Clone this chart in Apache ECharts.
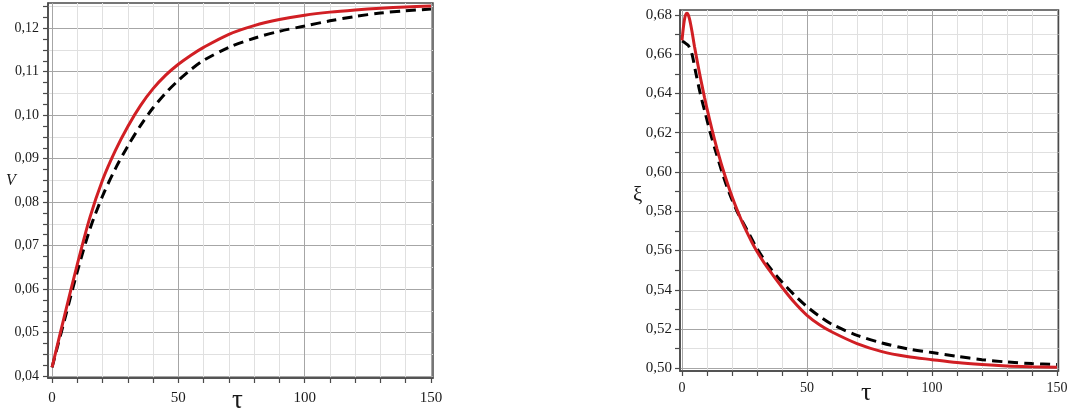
<!DOCTYPE html>
<html>
<head>
<meta charset="utf-8">
<script src="https://cdn.jsdelivr.net/npm/echarts@6/dist/echarts.min.js"></script>
<style>
html,body{margin:0;padding:0;background:#fff;}
#chart{width:1073px;height:414px;}
</style>
</head>
<body>
<div id="chart"></div>
<script>
// ---- Data ----
// Left panel: V(tau)
const tauVRed   = [0,5,10,15,20,25,30,35,40,45,50,55,60,70,80,90,100,110,120,130,140,150];
const vRed      = [0.0420,0.0540,0.0657,0.0765,0.0851,0.0918,0.0974,0.1022,0.1061,0.1092,0.1117,0.1138,0.1156,0.1186,0.1206,0.1220,0.1230,0.1237,0.1242,0.1246,0.1249,0.1251];
const tauVBlack = [0,5,10,15,20,25,30,35,40,45,50,55,60,70,80,90,100,110,120,130,140,150];
const vBlack    = [0.0420,0.0530,0.0640,0.0738,0.0814,0.0876,0.0929,0.0976,0.1017,0.1051,0.1080,0.1105,0.1126,0.1156,0.1177,0.1193,0.1205,0.1217,0.1227,0.1235,0.1240,0.1244];
// Right panel: xi(tau)
const tauXiRed   = [0,0.5,1,1.5,2,2.5,3,3.5,4,4.5,5,6,7,8,9,10,11,12,13,14,15,16,18,20,22,24,26,28,30,33,36,40,45,50,55,60,70,80,90,100,110,120,130,140,150];
const xiRed      = [0.6670,0.6730,0.6778,0.6802,0.6808,0.6800,0.6780,0.6750,0.6715,0.6677,0.6639,0.6570,0.6504,0.6441,0.6380,0.6323,0.6268,0.6216,0.6166,0.6118,0.6073,0.6029,0.5949,0.5875,0.5808,0.5747,0.5692,0.5641,0.5595,0.5534,0.5481,0.5413,0.5335,0.5270,0.5222,0.5185,0.5126,0.5085,0.5060,0.5044,0.5029,0.5019,0.5012,0.5008,0.5005];
const tauXiBlack = [0,1,2,2.7,4,5.6,7.3,9.3,11.3,13.6,16,18.7,22,26,30,35,40,45,50,55,60,70,80,90,100,110,120,130,140,150];
const xiBlack    = [0.6667,0.6660,0.6650,0.6641,0.6600,0.6500,0.6400,0.6300,0.6200,0.6100,0.6000,0.5900,0.5800,0.5705,0.5610,0.5515,0.5439,0.5373,0.5314,0.5265,0.5224,0.5168,0.5129,0.5100,0.5080,0.5061,0.5044,0.5032,0.5024,0.5019];

// ---- Ticks / labels ----
const tauTicks  = [0,10,20,30,40,50,60,70,80,90,100,110,120,130,140,150];
const tauLabels = [0,50,100,150];
const vTicks  = [0.04,0.0425,0.045,0.0475,0.05,0.0525,0.055,0.0575,0.06,0.0625,0.065,0.0675,0.07,0.0725,0.075,0.0775,0.08,0.0825,0.085,0.0875,0.09,0.0925,0.095,0.0975,0.10,0.1025,0.105,0.1075,0.11,0.1125,0.115,0.1175,0.12,0.1225,0.125];
const vLabels = [0.04,0.05,0.06,0.07,0.08,0.09,0.10,0.11,0.12];
const xiTicks  = [0.50,0.51,0.52,0.53,0.54,0.55,0.56,0.57,0.58,0.59,0.60,0.61,0.62,0.63,0.64,0.65,0.66,0.67,0.68];
const xiLabels = [0.50,0.52,0.54,0.56,0.58,0.60,0.62,0.64,0.66,0.68];

const pairs = (xs, ys) => xs.map((x, i) => [x, ys[i]]);
const comma = v => v.toFixed(2).replace('.', ',');

const FONT = 'Liberation Serif';
const MAJOR = '#a6a6a6', MINOR = '#e0e0e0', FRAME = '#4a4a4a', NONE = 'rgba(0,0,0,0)';
const RED = '#d11f24';
const TXT = '#1a1a1a';

function xAxisCfg(gridIndex, min, max, margin, fontSize) {
  return {
    type: 'value', gridIndex, min, max,
    axisLine: { show: true, onZero: false, lineStyle: { color: FRAME, width: 1.5 } },
    axisTick: { show: true, length: 5, customValues: tauTicks, lineStyle: { color: FRAME, width: 1.2 } },
    axisLabel: { customValues: tauLabels, margin, fontFamily: FONT, fontSize, color: TXT },
    splitLine: { show: true, lineStyle: { color: [MAJOR, MINOR, MINOR, MINOR, MINOR], width: 1 } }
  };
}

const chart = echarts.init(document.getElementById('chart'), null, { renderer: 'canvas' });
chart.setOption({
  animation: false,
  backgroundColor: '#fff',
  grid: [
    { left: 48, top: 3, width: 385, height: 375, show: true, borderColor: FRAME, borderWidth: 1.5, backgroundColor: NONE },
    { left: 680, top: 10, width: 378.5, height: 361, show: true, borderColor: FRAME, borderWidth: 1.5, backgroundColor: NONE }
  ],
  xAxis: [
    xAxisCfg(0, -1.6, 150.8, 13, 15),
    xAxisCfg(1, -0.8, 150.6, 10, 14)
  ],
  yAxis: [
    {
      type: 'value', gridIndex: 0, min: 0.03954, max: 0.1258,
      axisLine: { show: true, onZero: false, lineStyle: { color: FRAME, width: 1.5 } },
      axisTick: { show: true, length: 5, customValues: vTicks, lineStyle: { color: FRAME, width: 1.2 } },
      axisLabel: { customValues: vLabels, margin: 9, fontFamily: FONT, fontSize: 14, color: TXT, formatter: comma },
      splitLine: { show: true, lineStyle: { color: [MAJOR, NONE, MINOR, NONE], width: 1 } }
    },
    {
      type: 'value', gridIndex: 1, min: 0.49862, max: 0.6825,
      axisLine: { show: true, onZero: false, lineStyle: { color: FRAME, width: 1.5 } },
      axisTick: { show: true, length: 5, customValues: xiTicks, lineStyle: { color: FRAME, width: 1.2 } },
      axisLabel: { customValues: xiLabels, margin: 8, fontFamily: FONT, fontSize: 15, color: TXT, formatter: comma },
      splitLine: { show: true, lineStyle: { color: [MAJOR, MINOR], width: 1 } }
    }
  ],
  series: [
    { type: 'line', xAxisIndex: 0, yAxisIndex: 0, data: pairs(tauVBlack, vBlack), smooth: 0.3, showSymbol: false,
      lineStyle: { color: '#000', width: 3, type: [10, 6] }, z: 3 },
    { type: 'line', xAxisIndex: 0, yAxisIndex: 0, data: pairs(tauVRed, vRed), smooth: 0.3, showSymbol: false,
      lineStyle: { color: RED, width: 3 }, z: 4 },
    { type: 'line', xAxisIndex: 1, yAxisIndex: 1, data: pairs(tauXiBlack, xiBlack), smooth: 0.3, showSymbol: false,
      lineStyle: { color: '#000', width: 3, type: [10, 6] }, z: 3 },
    { type: 'line', xAxisIndex: 1, yAxisIndex: 1, data: pairs(tauXiRed, xiRed), smooth: 0.3, showSymbol: false,
      lineStyle: { color: RED, width: 3 }, z: 4 }
  ],
  graphic: [
    { type: 'text', left: 6, top: 173, style: { text: 'V', fontFamily: FONT, fontStyle: 'italic', fontSize: 16, fill: TXT } },
    { type: 'text', left: 232, top: 387, style: { text: 'τ', fontFamily: FONT, fontSize: 27, fill: TXT } },
    { type: 'text', left: 861, top: 380, style: { text: 'τ', fontFamily: FONT, fontSize: 26, fill: TXT } },
    { type: 'text', left: 633, top: 185, style: { text: 'ξ', fontFamily: FONT, fontSize: 21, fill: TXT } }
  ]
});
</script>
</body>
</html>
